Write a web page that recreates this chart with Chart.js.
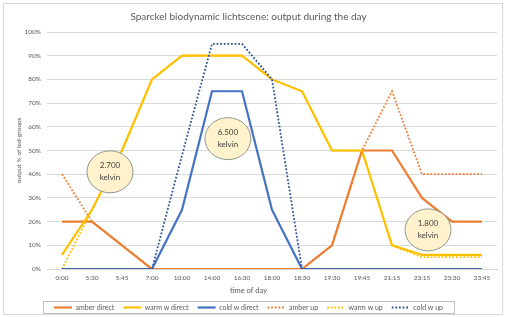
<!DOCTYPE html>
<html>
<head>
<meta charset="utf-8">
<script src="https://cdn.jsdelivr.net/npm/chart.js@4"></script>
<style>
  body { margin: 0; background: #fff; }
  #wrap { position: relative; width: 505px; height: 317px; }
  #frame { position: absolute; left: 3px; top: 3px; width: 500px; height: 312px; border: 1px solid #d9d9d9; box-sizing: border-box; pointer-events: none; }
</style>
</head>
<body>
<div id="wrap">
  <canvas id="lightChart" width="505" height="317"></canvas>
  <div id="frame"></div>
</div>
<script>
'use strict';

let times = ['0:00', '5:30', '5:45', '7:00', '10:00', '14:00', '16:30', '18:00', '18:30', '19:30', '19:45', '21:15', '23:15', '23:30', '23:45'];

let amberDirect = [20, 20, 10, 0, 0, 0, 0, 0, 0, 10, 50, 50, 30, 20, 20];
let warmDirect = [6, 25, 50, 80, 90, 90, 90, 80, 75, 50, 50, 10, 6, 6, 6];
let coldDirect = [0, 0, 0, 0, 25, 75, 75, 25, 0, 0, 0, 0, 0, 0, 0];
let amberUp = [40, 20, 10, 0, 0, 0, 0, 0, 0, 10, 50, 75, 40, 40, 40];
let warmUp = [0, 25, 50, 80, 90, 90, 90, 80, 75, 50, 50, 10, 5, 5, 5];
let coldUp = [0, 0, 0, 0, 48, 95, 95, 80, 0, 0, 0, 0, 0, 0, 0];

let bubbleTop = ['2.700', '6.500', '1.800'];
let bubbleBottom = ['kelvin', 'kelvin', 'kelvin'];
// bubble centres in data units (category index, percent)
let bubbleAt = [[1.6, 41], [5.53, 55], [12.2, 16.5]];

let textColor = '#595959';

function makeLine(label, data, color, dotted) {
  return {
    label: label,
    data: data,
    borderColor: color,
    backgroundColor: color,
    borderWidth: dotted ? 1.8 : 2.2,
    borderDash: dotted ? [1.8, 1.8] : [],
    pointRadius: 0,
    tension: 0,
    fill: false
  };
}

let datasets = [
  makeLine('amber direct', amberDirect, '#ED7D31', false),
  makeLine('warm w direct', warmDirect, '#FFC000', false),
  makeLine('cold w direct', coldDirect, '#4472C4', false),
  makeLine('amber up', amberUp, '#ED7D31', true),
  makeLine('warm w up', warmUp, '#FFC000', true),
  makeLine('cold w up', coldUp, '#2F5597', true)
];
// later series on top, like the spreadsheet
for (let i = 0; i < datasets.length; i++) {
  datasets[i].order = datasets.length - i;
}

let bubblePlugin = {
  id: 'bubbles',
  afterDatasetsDraw(chart) {
    let ctx = chart.ctx;
    let xs = chart.scales.x;
    let ys = chart.scales.y;
    ctx.save();
    for (let i = 0; i < bubbleTop.length; i++) {
      let cx = xs.getPixelForValue(bubbleAt[i][0]);
      let cy = ys.getPixelForValue(bubbleAt[i][1]);
      ctx.beginPath();
      ctx.ellipse(cx, cy, 23, 21, 0, 0, Math.PI * 2);
      ctx.fillStyle = '#FFF2CC';
      ctx.fill();
      ctx.lineWidth = 1;
      ctx.strokeStyle = '#8C9A8C';
      ctx.stroke();
      ctx.fillStyle = '#404040';
      ctx.font = '8px Lato';
      ctx.textAlign = 'center';
      ctx.textBaseline = 'middle';
      ctx.fillText(bubbleTop[i], cx, cy - 6);
      ctx.fillText(bubbleBottom[i], cx, cy + 6);
    }
    ctx.restore();
  }
};

let legendBoxPlugin = {
  id: 'legendBox',
  afterDraw(chart) {
    let boxes = chart.legend.legendHitBoxes;
    if (!boxes || !boxes.length) return;
    let left = boxes[0].left;
    let right = boxes[boxes.length - 1].left + boxes[boxes.length - 1].width;
    let top = boxes[0].top;
    let h = boxes[0].height;
    let ctx = chart.ctx;
    ctx.save();
    ctx.strokeStyle = '#bfbfbf';
    ctx.lineWidth = 1;
    ctx.strokeRect(Math.round(left - 11) + 0.5, Math.round(top - 3) + 0.5, Math.round(right - left + 22), Math.round(h + 5));
    ctx.restore();
  }
};

let config = {
  type: 'line',
  data: {
    labels: times,
    datasets: datasets
  },
  options: {
    responsive: false,
    animation: false,
    layout: {
      padding: { left: 0, right: 8, top: 0, bottom: -4 }
    },
    plugins: {
      title: {
        display: true,
        text: 'Sparckel biodynamic lichtscene: output during the day',
        color: textColor,
        font: { family: 'Lato', size: 10, weight: 'normal' },
        padding: { top: 11, bottom: 9 }
      },
      subtitle: {
        display: true,
        position: 'bottom',
        weight: 500,
        text: 'time of day',
        color: textColor,
        font: { family: 'Lato', size: 7.5, weight: 'normal' },
        padding: { top: 4, bottom: 0 }
      },
      legend: {
        position: 'bottom',
        labels: {
          usePointStyle: true,
          pointStyle: 'line',
          pointStyleWidth: 18,
          boxHeight: 7,
          color: textColor,
          padding: 9,
          font: { family: 'Lato', size: 7 },
          generateLabels: function (chart) {
            let items = Chart.defaults.plugins.legend.labels.generateLabels(chart);
            items.forEach(function (item) {
              let ds = chart.data.datasets[item.datasetIndex];
              item.lineDash = ds.borderDash;
              item.lineWidth = ds.borderWidth;
              item.strokeStyle = ds.borderColor;
            });
            return items;
          },
          sort: function (a, b) { return a.datasetIndex - b.datasetIndex; }
        }
      },
      tooltip: { enabled: false }
    },
    scales: {
      x: {
        offset: true,
        afterFit: function (scale) { scale.height = 13; },
        grid: { display: false, drawTicks: false },
        border: { color: '#d9d9d9' },
        ticks: {
          color: textColor,
          font: { family: 'Lato', size: 6.5 },
          maxRotation: 0,
          autoSkip: false,
          padding: 5
        }
      },
      y: {
        min: 0,
        max: 100,
        afterFit: function (scale) { scale.width = 47; },
        grid: { color: '#d9d9d9', drawTicks: false },
        border: { display: false },
        ticks: {
          stepSize: 10,
          color: textColor,
          font: { family: 'Lato', size: 6.5 },
          padding: 6,
          callback: function (v) { return v + '%'; }
        },
        title: {
          display: true,
          text: 'output % of led-groups',
          color: textColor,
          font: { family: 'Lato', size: 6.5 },
          padding: { top: 15, bottom: 0 }
        }
      }
    }
  },
  plugins: [bubblePlugin, legendBoxPlugin]
};

let myChart = new Chart(document.getElementById('lightChart'), config);
</script>
</body>
</html>
